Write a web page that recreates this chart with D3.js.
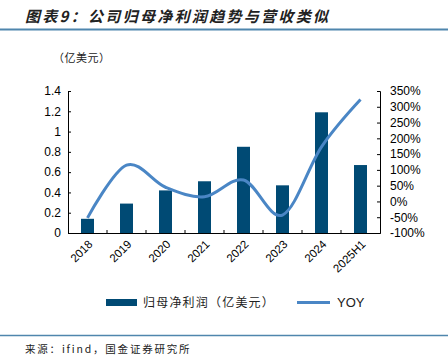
<!DOCTYPE html>
<html><head><meta charset="utf-8">
<script src="https://cdn.jsdelivr.net/npm/d3@7"></script>
<style>body{margin:0;background:#fff}svg{display:block}</style>
</head><body><svg id="c" width="448" height="357"></svg>
<script>
const categories = ["2018","2019","2020","2021","2022","2023","2024","2025H1"];
const profit = [0.14,0.29,0.42,0.51,0.85,0.47,1.19,0.67];
const yoy = [-52,115,45,15,68,-43,173,323];
const leftTicks = [0,0.2,0.4,0.6,0.8,1,1.2,1.4];
const rightTicks = [-100,-50,0,50,100,150,200,250,300,350];

const svg = d3.select("#c");
const cjk = "'Noto Sans CJK SC', sans-serif";
const lat = "'Liberation Sans', Arial, sans-serif";
const L = 68, R = 380, T = 91, B = 233;

svg.append("text").attr("x",25).attr("y",22).text("图表9：公司归母净利润趋势与营收类似")
  .attr("font-family",cjk).attr("font-size",15).attr("font-weight","bold").attr("font-style","italic")
  .attr("letter-spacing",2.3).attr("fill","#222");
svg.append("line").attr("x1",0).attr("x2",448).attr("y1",29.5).attr("y2",29.5).attr("stroke","#4f86ad").attr("stroke-width",2);
svg.append("text").attr("x",53).attr("y",62).text("（亿美元）").attr("font-family",cjk).attr("font-size",11)
  .attr("letter-spacing",0.5).attr("fill","#222");

const x = d3.scaleBand().domain(categories).range([L,R]).paddingInner(0).paddingOuter(0);
const yL = d3.scaleLinear().domain([0,1.4]).range([B,T]);
const yR = d3.scaleLinear().domain([-100,350]).range([B,T]);

svg.selectAll("rect.bar").data(profit).join("rect").attr("class","bar")
  .attr("x",(d,i)=>x(categories[i])+x.bandwidth()/2-6.5).attr("width",13)
  .attr("y",d=>yL(d)).attr("height",d=>B-yL(d)).attr("fill","#004a74");

const gl = svg.append("g").attr("transform",`translate(${L},0)`)
  .call(d3.axisLeft(yL).tickValues(leftTicks).tickSize(-3).tickPadding(7).tickFormat(d=>d3.format("")(d)));
const gr = svg.append("g").attr("transform",`translate(${R},0)`)
  .call(d3.axisRight(yR).tickValues(rightTicks).tickSize(-3).tickPadding(10).tickFormat(d=>d+"%"));
const gx = svg.append("g").attr("transform",`translate(0,${B})`)
  .call(d3.axisBottom(x).tickSize(0).tickFormat(""));
[gl,gr,gx].forEach(g=>{g.select(".domain").attr("stroke","#000");g.selectAll("line").attr("stroke","#000");
  g.selectAll("text").attr("font-family",lat).attr("font-size",12).attr("fill","#000");});
svg.selectAll("line.xt").data(categories.slice(1)).join("line").attr("class","xt")
  .attr("x1",d=>x(d)).attr("x2",d=>x(d)).attr("y1",B).attr("y2",B-3).attr("stroke","#000");
svg.selectAll("text.xl").data(categories).join("text").attr("class","xl")
  .attr("transform",d=>`translate(${x(d)+x.bandwidth()/2+3},${B+9}) rotate(-45)`)
  .attr("text-anchor","end").attr("dy","0.35em").attr("font-family",lat).attr("font-size",11.5).text(d=>d);

const line = d3.line().x((d,i)=>x(categories[i])+x.bandwidth()/2).y(d=>yR(d)).curve(d3.curveCardinal.tension(0));
svg.append("path").datum(yoy).attr("d",line).attr("fill","none").attr("stroke","#4a86c5").attr("stroke-width",3);

svg.append("rect").attr("x",106).attr("y",299).attr("width",31).attr("height",7).attr("fill","#004a74");
svg.append("text").attr("x",143).attr("y",307).text("归母净利润（亿美元）").attr("font-family",cjk).attr("font-size",12)
  .attr("letter-spacing",1.2).attr("fill","#222");
svg.append("line").attr("x1",297).attr("x2",330).attr("y1",302.5).attr("y2",302.5).attr("stroke","#4a86c5").attr("stroke-width",3);
svg.append("text").attr("x",337).attr("y",307).text("YOY").attr("font-family",lat).attr("font-size",13).attr("fill","#222");

svg.append("line").attr("x1",0).attr("x2",448).attr("y1",335.5).attr("y2",335.5).attr("stroke","#4f86ad").attr("stroke-width",1.5);
svg.append("text").attr("x",25).attr("y",353).text("来源：ifind，国金证券研究所").attr("font-family",cjk).attr("font-size",10.5)
  .attr("letter-spacing",1.8).attr("fill","#222");
</script></body></html>
